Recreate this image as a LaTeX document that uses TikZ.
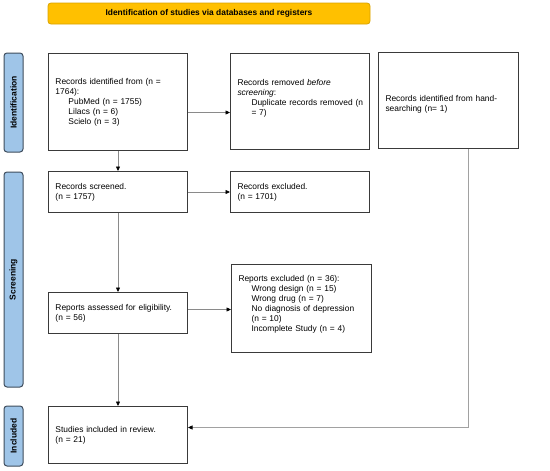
\documentclass[tikz,border=0pt]{standalone}
\usepackage{fontspec}
\setmainfont{Liberation Sans}
\usetikzlibrary{arrows.meta,calc}
\definecolor{bannerfill}{HTML}{FFC000}
\definecolor{bannerdraw}{HTML}{D9A300}
\definecolor{sidefill}{HTML}{9FC5E8}
\definecolor{sidedraw}{HTML}{3E4C5C}
\definecolor{boxdraw}{HTML}{3A3A3A}
\definecolor{linecol}{HTML}{8A8A8A}
\begin{document}
\begin{tikzpicture}[x=1pt,y=-1pt,
  banner/.style={draw=bannerdraw,fill=bannerfill,rounded corners=3pt,line width=0.8pt},
  sidebar/.style={draw=sidedraw,fill=sidefill,rounded corners=3pt,line width=1pt},
  sidelabel/.style={rotate=90,font=\fontsize{8.5}{10}\selectfont\bfseries},
  flowbox/.style={draw=boxdraw,fill=white,line width=1pt,anchor=north west,
    align=left,inner xsep=7pt,inner ysep=0pt,
    font=\fontsize{8.4}{10}\selectfont},
  conn/.style={draw=linecol,line width=0.7pt,-{Triangle[length=4.5pt,width=4pt,color=black]}}
]
\useasboundingbox (0,0) rectangle (550,471);
% banner
\draw[banner] (48,3) rectangle (370,24);
\node[font=\fontsize{8.4}{10}\selectfont\bfseries] (bannertext) at (209,13.5) {Identification of studies via databases and registers};
% sidebars
\draw[sidebar] (4,53) rectangle (23,152);
\node[sidelabel] (lid) at (13.5,102.5) {Identification};
\draw[sidebar] (4,172) rectangle (23,387);
\node[sidelabel] (lsc) at (13.5,279.5) {Screening};
\draw[sidebar] (4,406) rectangle (23,466);
\node[sidelabel] (lin) at (13.5,436) {Included};
% boxes
\node[flowbox,minimum width=139pt,minimum height=97pt,text width=125pt] (ident) at (48,53)
 {Records identified from (n =\\1764):\\\hspace*{13pt}PubMed (n = 1755)\\\hspace*{13pt}Lilacs (n = 6)\\\hspace*{13pt}Scielo (n = 3)};
\node[flowbox,minimum width=139pt,minimum height=96pt,text width=125pt] (removed) at (230,53)
 {Records removed \textit{before}\\\textit{screening}:\\\mbox{\hspace*{14pt}Duplicate records removed (n}\\\hspace*{14pt}= 7)\\[-2pt]\mbox{}};
\node[flowbox,minimum width=140pt,minimum height=96pt,text width=126pt] (hand) at (378,52)
 {\rule{0pt}{13pt}Records identified from hand-\\searching (n= 1)};
\node[flowbox,minimum width=139pt,minimum height=41pt,text width=125pt] (screened) at (48,171)
 {Records screened.\\(n = 1757)};
\node[flowbox,minimum width=139pt,minimum height=41pt,text width=125pt] (excluded) at (230,171)
 {Records excluded.\\(n = 1701)};
\node[flowbox,minimum width=139pt,minimum height=41pt,text width=125pt] (assessed) at (48,292)
 {Reports assessed for eligibility.\\(n = 56)};
\node[flowbox,minimum width=140pt,minimum height=88pt,text width=126pt] (repexcl) at (231,264)
 {Reports excluded (n = 36):\\\hspace*{13pt}Wrong design (n = 15)\\\hspace*{13pt}Wrong drug (n = 7)\\\hspace*{13pt}No diagnosis of depression\\\hspace*{13pt}(n = 10)\\\hspace*{13pt}Incomplete Study (n = 4)\\[0pt]\mbox{}};
\node[flowbox,minimum width=139pt,minimum height=57pt,text width=125pt] (included) at (48,406)
 {Studies included in review.\\(n = 21)};
% connectors
\draw[conn] (ident.south) -- (screened.north);
\draw[conn] ([yshift=-10.5pt]ident.east) -- ([yshift=-11pt]removed.west);
\draw[conn] (screened.east) -- (excluded.west);
\draw[conn] (screened.south) -- (assessed.north);
\draw[conn] ([yshift=3.5pt]assessed.east) -- ([yshift=3.5pt]assessed.east -| repexcl.west);
\draw[conn] (assessed.south) -- (included.north);
\coordinate (handdrop) at ([xshift=20pt]hand.south);
\coordinate (inclin) at ([yshift=7.5pt]included.east);
\draw[conn,draw=linecol!80] (handdrop) |- (inclin);
\end{tikzpicture}
\end{document}
